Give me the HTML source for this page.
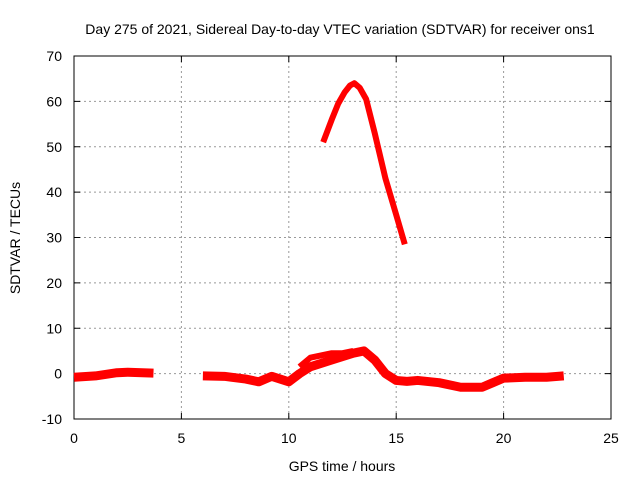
<!DOCTYPE html>
<html><head><meta charset="utf-8"><style>
body{margin:0;background:#fff}
svg text{font-family:"Liberation Sans",sans-serif;font-size:14px;fill:#000}
</style></head><body>
<svg width="640" height="480">
<g id="grid"></g>
<g id="axes"></g>
<g id="series"></g>
<text x="340" y="34" text-anchor="middle">Day 275 of 2021, Sidereal Day-to-day VTEC variation (SDTVAR) for receiver ons1</text>
<text x="342" y="471" text-anchor="middle">GPS time / hours</text>
<text transform="translate(20,238) rotate(-90)" text-anchor="middle">SDTVAR / TECUs</text>
</svg>
<script>
const xTicks=[0,5,10,15,20,25];
const yTicks=[-10,0,10,20,30,40,50,60,70];
const seg1X=[0,1,2,2.5,3.7];
const seg1Y=[-0.8,-0.5,0.2,0.3,0.1];
const seg2X=[6,7,8,8.6,9.2,10,10.5,11,12,13,13.5,14,14.5,15,15.5,16,17,18,19,19.5,20,21,22,22.8];
const seg2Y=[-0.5,-0.6,-1.2,-1.8,-0.6,-1.8,0,1.5,3,4.5,5,3,0,-1.5,-1.7,-1.5,-2,-3,-3,-2,-1,-0.8,-0.8,-0.5];
const seg2bX=[10.5,11,12,12.5,13];
const seg2bY=[1.5,3.5,4.5,4.5,5];
const upX=[11.6,12,12.3,12.6,12.85,13.05,13.3,13.6,14,14.5,15,15.4];
const upY=[51,56,59.5,62,63.5,64,63,60.5,53,43,35,28.5];
const X0=74,X1=611,Y0=419,Y1=56;
const sx=v=>X0+(v-0)/(25-0)*(X1-X0);
const sy=v=>Y0-(v+10)/80*(Y0-Y1);
const NS='http://www.w3.org/2000/svg';
function mk(t,a,p){const e=document.createElementNS(NS,t);for(const k in a)e.setAttribute(k,a[k]);p.appendChild(e);return e;}
const grid=document.getElementById('grid'),axes=document.getElementById('axes'),ser=document.getElementById('series');
xTicks.forEach(t=>{const x=sx(t);
 if(t>0&&t<25){const l=mk('line',{x1:x,x2:x,y1:Y1,y2:Y0,stroke:'#999','stroke-dasharray':'2,3'},grid);
 
 }
 mk('line',{x1:x,x2:x,y1:Y0,y2:Y0-6,stroke:'#000'},axes);
 mk('line',{x1:x,x2:x,y1:Y1,y2:Y1+6,stroke:'#000'},axes);
 const tx=mk('text',{x:x,y:Y0+24,'text-anchor':'middle'},axes);tx.textContent=t;
 
 
});
yTicks.forEach(t=>{const y=sy(t);
 if(t>-10&&t<70){const l=mk('line',{x1:X0,x2:X1,y1:y,y2:y,stroke:'#999','stroke-dasharray':'2,3'},grid);
 
 }
 mk('line',{x1:X0,x2:X0+6,y1:y,y2:y,stroke:'#000'},axes);
 mk('line',{x1:X1,x2:X1-6,y1:y,y2:y,stroke:'#000'},axes);
 const tx=mk('text',{x:X0-12,y:y+5,'text-anchor':'end'},axes);tx.textContent=t;
 
 
});
const fr=mk('rect',{x:X0,y:Y1,width:X1-X0,height:Y0-Y1,fill:'none',stroke:'#000'},axes);


function line(xs,ys,w,name){const pts=xs.map((v,i)=>sx(v)+','+sy(ys[i])).join(' ');
 const p=mk('polyline',{points:pts,fill:'none',stroke:'#f00','stroke-width':w,'stroke-linejoin':'round','stroke-linecap':'butt'},ser);
 
 }
line(seg1X,seg1Y,9,'series-segment-1');
line(seg2X,seg2Y,9,'series-segment-2');
line(seg2bX,seg2bY,6,'series-segment-2b');
line(upX,upY,6,'series-upper-arc');
</script>
</body></html>
